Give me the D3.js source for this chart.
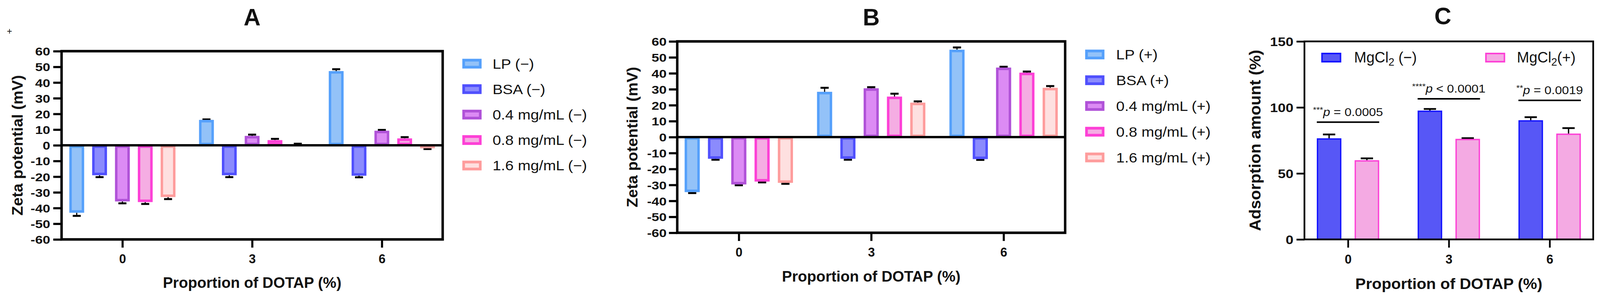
<!DOCTYPE html>
<html>
<head>
<meta charset="utf-8">
<script src="https://cdn.jsdelivr.net/npm/d3@7"></script>
<style>
  html, body { margin: 0; padding: 0; background: #fff; overflow: hidden; }
  svg { display: block; }
  text { font-family: Arial, "Liberation Sans", Helvetica, sans-serif; fill: #111; }
</style>
</head>
<body>
<svg id="chart"></svg>
<script>
// ---------------- DATA ----------------
const categories = ["0", "3", "6"];
const zetaTickValues = [-60, -50, -40, -30, -20, -10, 0, 10, 20, 30, 40, 50, 60];
const adsTickValues = [0, 50, 100, 150];

// Panel A (negative-charged series)
const seriesA = ["LP (\u2212)", "BSA (\u2212)", "0.4 mg/mL (\u2212)", "0.8 mg/mL (\u2212)", "1.6 mg/mL (\u2212)"];
const lpA   = [-43.0, 16.2, 47.3];  const lpAErr   = [2.0, 0.3, 1.2];
const bsaA  = [-19.1, -19.1, -19.4]; const bsaAErr  = [1.2, 1.2, 1.0];
const c04A  = [-35.8, 6.0, 9.3];    const c04AErr  = [1.2, 0.8, 0.5];
const c08A  = [-36.2, 3.3, 4.4];    const c08AErr  = [1.2, 0.8, 0.8];
const c16A  = [-33.0, 0.8, -1.9];   const c16AErr  = [1.3, 0.2, 0.5];

// Panel B (positive-charged series)
const seriesB = ["LP (+)", "BSA (+)", "0.4 mg/mL (+)", "0.8 mg/mL (+)", "1.6 mg/mL (+)"];
const lpB   = [-34.5, 28.4, 54.8];  const lpBErr   = [0.6, 2.5, 1.4];
const bsaB  = [-13.6, -13.6, -13.8]; const bsaBErr  = [0.6, 0.6, 0.5];
const c04B  = [-29.7, 30.6, 43.6];  const c04BErr  = [0.5, 0.7, 0.5];
const c08B  = [-27.9, 25.4, 40.4];  const c08BErr  = [0.5, 1.8, 0.7];
const c16B  = [-28.7, 21.6, 30.9];  const c16BErr  = [0.6, 0.8, 1.1];

// Panel C (adsorption)
const mgMinus = [76.6, 97.6, 90.3]; const mgMinusErr = [2.9, 1.2, 2.3];
const mgPlus  = [60.0, 76.2, 80.2]; const mgPlusErr  = [1.4, 0.5, 4.1];
const sigStars  = ["***", "****", "**"];
const sigText   = [" = 0.0005", " < 0.0001", " = 0.0019"];
const sigLevels = [88.8, 106.5, 105.3];

// ---------------- STYLE ----------------
const zetaStroke = ["#55a0fb", "#5050fd", "#b052d8", "#fd40d6", "#fe9c9c"];
const zetaFill   = ["#93c2f8", "#8b8bfd", "#dc8bf4", "#f5ade3", "#fee0e0"];
const adsStroke  = ["#1414ff", "#fd40d6"];
const adsFill    = ["#5757f6", "#f4aae3"];

const FULL_W = 4236, FULL_H = 763;
let vw = Math.min(window.innerWidth || FULL_W, document.documentElement.clientWidth || FULL_W) || FULL_W;
let vh = window.innerHeight || FULL_H;
vw = Math.min(vw, FULL_W);
if (!(vh > 0.75 * FULL_H && vh <= FULL_H)) vh = Math.min(FULL_H, FULL_H * vw / FULL_W);

const svg = d3.select("#chart")
  .attr("width", vw).attr("height", vh)
  .attr("viewBox", `0 0 ${FULL_W} ${FULL_H}`)
  .attr("preserveAspectRatio", "none");
svg.append("rect").attr("width", FULL_W).attr("height", FULL_H).attr("fill", "#fff");

function stretchedText(parent, x, y, str, opt) {
  return parent.append("text")
    .attr("transform", `translate(${x},${y}) scale(${opt.sx || 1},1)`)
    .attr("text-anchor", opt.anchor || "start")
    .attr("font-size", opt.size)
    .attr("font-weight", opt.weight || "normal")
    .text(str);
}

function drawZeta(cfg, names, means, errs) {
  const g = svg.append("g");
  const x = d3.scalePoint().domain(categories).range([cfg.left, cfg.right]).padding(cfg.pad);
  const y = d3.scaleLinear().domain([-60, 60]).range([cfg.bottom, cfg.top]);
  const groupW = x.step() * 0.88;
  const xs = d3.scaleBand().domain(d3.range(names.length)).range([-groupW / 2, groupW / 2])
    .paddingInner(0.35).paddingOuter(0.175);
  const bw = xs.bandwidth();
  const sw = 6.5;

  const data = [];
  names.forEach((n, i) => categories.forEach((c, j) => data.push({ i, c, v: means[i][j], e: errs[i][j] })));

  g.selectAll(".err").data(data).enter().append("g").each(function (d) {
    const cx = x(d.c) + xs(d.i) + bw / 2;
    const s = d.v >= 0 ? 1 : -1;
    const y0 = y(d.v), y1 = y(d.v + s * d.e);
    const gg = d3.select(this);
    gg.append("line").attr("x1", cx).attr("x2", cx).attr("y1", y0).attr("y2", y1)
      .attr("stroke", "#000").attr("stroke-width", 3);
    gg.append("line").attr("x1", cx - bw * 0.27).attr("x2", cx + bw * 0.27).attr("y1", y1).attr("y2", y1)
      .attr("stroke", "#000").attr("stroke-width", 5);
  });

  g.selectAll(".bar").data(data).enter().append("rect")
    .attr("x", d => x(d.c) + xs(d.i) + sw / 2)
    .attr("width", bw - sw)
    .attr("y", d => Math.min(y(d.v), y(0)) + sw / 2)
    .attr("height", d => Math.max(0, Math.abs(y(d.v) - y(0)) - sw))
    .attr("fill", d => zetaFill[d.i])
    .attr("stroke", d => zetaStroke[d.i])
    .attr("stroke-width", sw);

  g.append("line").attr("x1", cfg.left).attr("x2", cfg.right).attr("y1", y(0)).attr("y2", y(0))
    .attr("stroke", "#000").attr("stroke-width", 6);

  const ya = g.append("g").attr("transform", `translate(${cfg.left},0)`)
    .call(d3.axisLeft(y).tickValues(zetaTickValues).tickSize(22).tickSizeOuter(0).tickFormat(d => String(d)));
  ya.select(".domain").remove();
  ya.selectAll(".tick line").attr("stroke", "#000").attr("stroke-width", 5.5);
  ya.selectAll(".tick text").attr("x", -cfg.ylabOff / 1.2).attr("dy", "0.36em")
    .attr("transform", "scale(1.2,1)").attr("font-size", 30).attr("font-weight", "bold")
    .attr("font-family", "Arial, 'Liberation Sans', sans-serif").attr("fill", "#111");

  const xa = g.append("g").attr("transform", `translate(0,${cfg.bottom})`)
    .call(d3.axisBottom(x).tickSize(21).tickSizeOuter(0));
  xa.select(".domain").remove();
  xa.selectAll(".tick line").attr("stroke", "#000").attr("stroke-width", 5.5);
  xa.selectAll(".tick text").attr("y", 61).attr("dy", 0).attr("font-size", 33).attr("font-weight", "bold")
    .attr("font-family", "Arial, 'Liberation Sans', sans-serif").attr("fill", "#111");

  g.append("rect").attr("x", cfg.left).attr("y", cfg.top).attr("width", cfg.right - cfg.left)
    .attr("height", cfg.bottom - cfg.top).attr("fill", "none").attr("stroke", "#000").attr("stroke-width", 6.5);

  stretchedText(g, (cfg.left + cfg.right) / 2, cfg.titleY, cfg.title, { size: 62, weight: "bold", anchor: "middle" });
  stretchedText(g, (cfg.left + cfg.right) / 2, cfg.xTitleY, "Proportion of DOTAP (%)", { size: 38, weight: "bold", anchor: "middle", sx: 1.05 });
  g.append("text").attr("transform", `translate(${cfg.yTitleX + 10},${(cfg.top + cfg.bottom) / 2}) rotate(-90)`)
    .attr("text-anchor", "middle").attr("font-size", 40).attr("font-weight", "bold").text("Zeta potential (mV)");

  names.forEach((n, i) => {
    const cy = cfg.legY + i * cfg.legDy;
    g.append("rect").attr("x", cfg.legX + 3.5).attr("y", cy - 12.5 + 3.5).attr("width", 44).attr("height", 18)
      .attr("fill", zetaFill[i]).attr("stroke", zetaStroke[i]).attr("stroke-width", 7);
    stretchedText(g, cfg.legTextX, cy + 12.5, n, { size: 35, sx: 1.15 });
  });
}

drawZeta({ left: 163, right: 1172, top: 131, bottom: 613, pad: 0.469, ylabOff: 30, title: "A", titleY: 65,
           xTitleY: 737, yTitleX: 50, legX: 1224, legTextX: 1304, legY: 163, legDy: 65.2 },
  seriesA, [lpA, bsaA, c04A, c08A, c16A], [lpAErr, bsaAErr, c04AErr, c08AErr, c16AErr]);

drawZeta({ left: 1793, right: 2820, top: 106, bottom: 596, pad: 0.465, ylabOff: 28, title: "B", titleY: 65,
           xTitleY: 721, yTitleX: 1678, legX: 2873, legTextX: 2955, legY: 139.5, legDy: 65.9 },
  seriesB, [lpB, bsaB, c04B, c08B, c16B], [lpBErr, bsaBErr, c04BErr, c08BErr, c16BErr]);

// ---------------- PANEL C ----------------
(function () {
  const cfg = { left: 3453.5, right: 4218, top: 106, bottom: 613, pad: 0.432 };
  const g = svg.append("g");
  const x = d3.scalePoint().domain(categories).range([cfg.left, cfg.right]).padding(cfg.pad);
  const y = d3.scaleLinear().domain([0, 150]).range([cfg.bottom, cfg.top]);
  const groupW = x.step() * 0.75;
  const xs = d3.scaleBand().domain([0, 1]).range([-groupW / 2, groupW / 2]).paddingInner(0.35).paddingOuter(0.175);
  const bw = xs.bandwidth();
  const sw = 3.5;
  const means = [mgMinus, mgPlus], errs = [mgMinusErr, mgPlusErr];
  const data = [];
  [0, 1].forEach(i => categories.forEach((c, j) => data.push({ i, c, v: means[i][j], e: errs[i][j] })));

  g.selectAll(".err").data(data).enter().append("g").each(function (d) {
    const cx = x(d.c) + xs(d.i) + bw / 2;
    const y0 = y(d.v), y1 = y(d.v + d.e);
    const gg = d3.select(this);
    gg.append("line").attr("x1", cx).attr("x2", cx).attr("y1", y0).attr("y2", y1).attr("stroke", "#000").attr("stroke-width", 3.5);
    gg.append("line").attr("x1", cx - bw * 0.25).attr("x2", cx + bw * 0.25).attr("y1", y1).attr("y2", y1)
      .attr("stroke", "#000").attr("stroke-width", 4.5);
  });

  g.selectAll(".bar").data(data).enter().append("rect")
    .attr("x", d => x(d.c) + xs(d.i) + sw / 2)
    .attr("width", bw - sw)
    .attr("y", d => y(d.v) + sw / 2)
    .attr("height", d => y(0) - y(d.v) - sw / 2)
    .attr("fill", d => adsFill[d.i]).attr("stroke", d => adsStroke[d.i]).attr("stroke-width", sw);

  categories.forEach((c, j) => {
    const ly = y(sigLevels[j]);
    g.append("line").attr("x1", x(c) + xs(0)).attr("x2", x(c) + xs(1) + bw).attr("y1", ly).attr("y2", ly)
      .attr("stroke", "#000").attr("stroke-width", 4);
    const t = g.append("text").attr("transform", `translate(${x(c)},${ly - 16}) scale(1.15,1)`)
      .attr("text-anchor", "middle").attr("font-size", 29);
    t.append("tspan").attr("font-size", 20).attr("dy", -9).text(sigStars[j]);
    t.append("tspan").attr("font-style", "italic").attr("dy", 9).text("p");
    t.append("tspan").text(sigText[j]);
  });

  const ya = g.append("g").attr("transform", `translate(${cfg.left},0)`)
    .call(d3.axisLeft(y).tickValues(adsTickValues).tickSize(21).tickSizeOuter(0).tickFormat(d => String(d)));
  ya.select(".domain").remove();
  ya.selectAll(".tick line").attr("stroke", "#000").attr("stroke-width", 4.5);
  ya.selectAll(".tick text").attr("x", -29 / 1.2).attr("dy", "0.36em").attr("transform", "scale(1.2,1)")
    .attr("font-size", 31).attr("font-weight", "bold").attr("font-family", "Arial, 'Liberation Sans', sans-serif").attr("fill", "#111");

  const xa = g.append("g").attr("transform", `translate(0,${cfg.bottom})`)
    .call(d3.axisBottom(x).tickSize(21).tickSizeOuter(0));
  xa.select(".domain").remove();
  xa.selectAll(".tick line").attr("stroke", "#000").attr("stroke-width", 4.5);
  xa.selectAll(".tick text").attr("y", 62).attr("dy", 0).attr("font-size", 33).attr("font-weight", "bold")
    .attr("font-family", "Arial, 'Liberation Sans', sans-serif").attr("fill", "#111");

  g.append("rect").attr("x", cfg.left).attr("y", cfg.top).attr("width", cfg.right - cfg.left)
    .attr("height", cfg.bottom - cfg.top).attr("fill", "none").attr("stroke", "#000").attr("stroke-width", 4.5);

  stretchedText(g, 3820, 62, "C", { size: 62, weight: "bold", anchor: "middle" });
  stretchedText(g, (cfg.left + cfg.right) / 2, 740, "Proportion of DOTAP (%)", { size: 38, weight: "bold", anchor: "middle", sx: 1.1 });
  g.append("text").attr("transform", `translate(${3327 + 10.5},${(cfg.top + cfg.bottom) / 2}) rotate(-90)`)
    .attr("text-anchor", "middle").attr("font-size", 42).attr("font-weight", "bold").text("Adsorption amount (%)");

  const legs = [{ x: 3498, tx: 3585, sep: " ", sign: "(\u2212)" }, { x: 3932, tx: 4016, sep: "", sign: "(+)" }];
  legs.forEach((L, i) => {
    g.append("rect").attr("x", L.x + 2).attr("y", 137).attr("width", 49).attr("height", 21)
      .attr("fill", adsFill[i]).attr("stroke", adsStroke[i]).attr("stroke-width", 4);
    const t = g.append("text").attr("x", L.tx).attr("y", 160).attr("font-size", 39);
    t.append("tspan").text("MgCl");
    t.append("tspan").attr("font-size", 28).attr("dy", 8).text("2");
    t.append("tspan").attr("dy", -8).text(L.sep + L.sign);
  });
})();

svg.append("text").attr("x", 25).attr("y", 88).attr("text-anchor", "middle").attr("font-size", 24).text("+");
</script>
</body>
</html>
